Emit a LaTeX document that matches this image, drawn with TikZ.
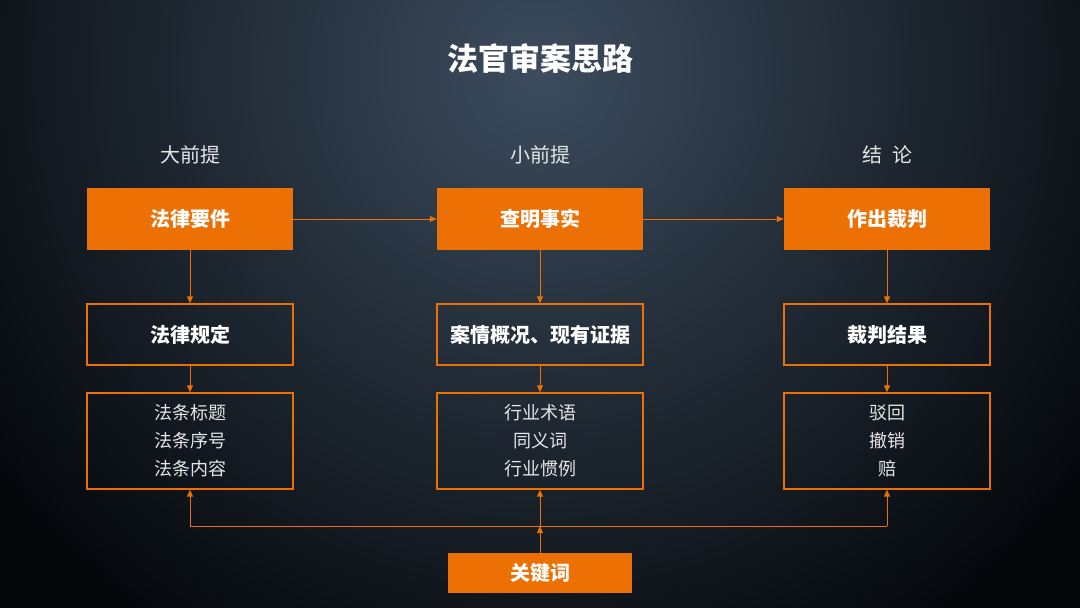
\documentclass[tikz,border=0pt]{standalone}
\usepackage{fontspec}
\setmainfont{Noto Sans CJK SC}
\newfontfamily\cjk{Noto Sans CJK SC}
\usetikzlibrary{arrows.meta,positioning}
\definecolor{orng}{HTML}{EC7004}
\definecolor{bgin}{HTML}{3C4C5E}
\definecolor{bgout}{HTML}{04070A}
\definecolor{txt}{HTML}{E6E6E6}
\tikzset{
  solidbox/.style={fill=orng, draw=none, minimum width=206pt, minimum height=62pt, inner sep=0pt, text=white, font=\cjk\bfseries\fontsize{20}{24}\selectfont},
  linebox/.style={draw=orng, line width=1.4pt, minimum width=206pt, minimum height=61pt, inner sep=0pt, text=white, font=\cjk\bfseries\fontsize{20}{24}\selectfont},
  listbox/.style={draw=orng, line width=1.4pt, minimum width=206pt, minimum height=96pt, inner sep=0pt, text=txt, align=center, font=\cjk\fontsize{18}{28}\selectfont},
  header/.style={text=txt, font=\cjk\fontsize{20}{24}\selectfont},
  conn/.style={draw=orng, line width=1pt, -{Triangle[length=7pt,width=6pt]}},
  plainconn/.style={draw=orng, line width=1pt}
}
\begin{document}
\begin{tikzpicture}[x=1pt,y=-1pt]
\useasboundingbox (0,0) rectangle (1080,608);
\fill[bgout] (0,0) rectangle (1080,608);
\begin{scope}
\clip (0,0) rectangle (1080,608);
\shade[inner color=bgin, outer color=bgout] (540,70) circle (680);
\end{scope}

\node[text=white, font=\cjk\bfseries\fontsize{31}{36}\selectfont] (title) at (540,58) {法官审案思路};

\node[header] (h1) at (190,155) {大前提};
\node[header] (h2) at (540,155) {小前提};
\node[header] (h3) at (887,155) {结\hspace{0.5em}论};

\node[solidbox] (f1) at (190,219) {法律要件};
\node[solidbox] (f2) at (540,219) {查明事实};
\node[solidbox] (f3) at (887,219) {作出裁判};

\node[linebox] (r1) at (190,334.5) {法律规定};
\node[linebox] (r2) at (540,334.5) {案情概况、现有证据};
\node[linebox] (r3) at (887,334.5) {裁判结果};

\node[listbox] (l1) at (190,441) {法条标题\\法条序号\\法条内容};
\node[listbox] (l2) at (540,441) {行业术语\\同义词\\行业惯例};
\node[listbox] (l3) at (887,441) {驳回\\撤销\\赔};

\node[solidbox, minimum width=184pt, minimum height=40pt] (key) at (540,573) {关键词};

\coordinate (jl) at (190,526);
\coordinate (jm) at (540,526);
\coordinate (jr) at (887,526);

\draw[conn] (f1) -- (f2);
\draw[conn] (f2) -- (f3);
\draw[conn] (f1) -- (r1);
\draw[conn] (f2) -- (r2);
\draw[conn] (f3) -- (r3);
\draw[conn] (r1) -- (l1);
\draw[conn] (r2) -- (l2);
\draw[conn] (r3) -- (l3);
\draw[conn] (key) -- (jm);
\draw[plainconn] (jl) -- (jr);
\draw[conn] (jl) -- (l1);
\draw[conn] (jm) -- (l2);
\draw[conn] (jr) -- (l3);
\end{tikzpicture}
\end{document}
